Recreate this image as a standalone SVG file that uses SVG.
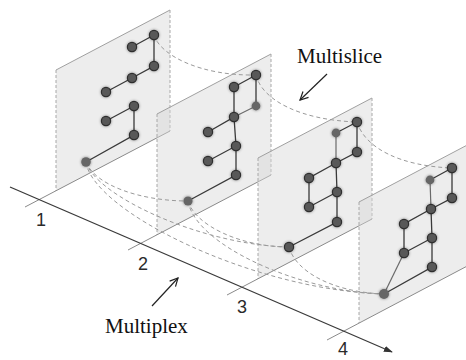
<svg xmlns="http://www.w3.org/2000/svg" width="466" height="360" viewBox="0 0 466 360">
<style>
.plane{fill:#d6d6d6;fill-opacity:0.45;stroke:none}
.ptop{stroke:#a0a0a0;stroke-width:1;fill:none}
.pside{stroke:#a8a8a8;stroke-width:1;stroke-dasharray:3,2;fill:none}
.pbot{stroke:#8a8a8a;stroke-width:1;fill:none}
.edge{stroke:#3a3a3a;stroke-width:1.3;fill:none}
.edgel{stroke:#6a6a6a;stroke-width:1.2;fill:none}
.dash{stroke:#9a9a9a;stroke-width:1;stroke-dasharray:4,3;fill:none}
.node{fill:#585858;stroke:#2e2e2e;stroke-width:1.2}
.nodel{fill:#666;stroke:none}
.num{font-family:"Liberation Sans","DejaVu Sans",sans-serif;font-size:18px;fill:#2a2a2a}
.lbl{font-family:"Liberation Serif","Times New Roman",serif;font-size:21px;fill:#111}
.arr{stroke:#222;stroke-width:1.2;fill:none}
</style>
<defs>
<filter id="glow" x="-1" y="-1" width="3" height="3">
<feGaussianBlur in="SourceAlpha" stdDeviation="1.8" result="b"/>
<feComponentTransfer in="b" result="s"><feFuncA type="linear" slope="0.45"/></feComponentTransfer>
<feMerge><feMergeNode in="s"/><feMergeNode in="SourceGraphic"/></feMerge>
</filter>
<marker id="open" viewBox="0 0 10 10" refX="9" refY="5" markerWidth="10" markerHeight="10" markerUnits="userSpaceOnUse" orient="auto">
<path d="M1,1 L9,5 L1,9" stroke="#222" stroke-width="1.2" fill="none"/>
</marker>
<marker id="solid" viewBox="0 0 10 10" refX="9" refY="5" markerWidth="9" markerHeight="9" markerUnits="userSpaceOnUse" orient="auto">
<path d="M0,1.5 L10,5 L0,8.5 Z" fill="#333"/>
</marker>
</defs>
<rect width="466" height="360" fill="#fff"/>

<!-- layers -->
<g id="layer1">
<polygon class="plane" points="56,70 170,10 170,131 56,191"/>
<line class="ptop" x1="56" y1="70" x2="170" y2="10"/>
<line class="pside" x1="56" y1="70" x2="56" y2="191"/>
<line class="pside" x1="170" y1="10" x2="170" y2="131"/>
<line class="pbot" x1="25" y1="207" x2="170" y2="131"/>
</g>
<g id="layer2">
<polygon class="plane" points="157,114 271,54 271,175 157,235"/>
<line class="ptop" x1="157" y1="114" x2="271" y2="54"/>
<line class="pside" x1="157" y1="114" x2="157" y2="235"/>
<line class="pside" x1="271" y1="54" x2="271" y2="175"/>
<line class="pbot" x1="128" y1="250" x2="271" y2="175"/>
</g>
<g id="layer3">
<polygon class="plane" points="258,158 372,98 372,219 258,279"/>
<line class="ptop" x1="258" y1="158" x2="372" y2="98"/>
<line class="pside" x1="258" y1="158" x2="258" y2="279"/>
<line class="pside" x1="372" y1="98" x2="372" y2="219"/>
<line class="pbot" x1="227" y1="295" x2="372" y2="219"/>
</g>
<g id="layer4">
<polygon class="plane" points="359,202 473,142 473,263 359,323"/>
<line class="ptop" x1="359" y1="202" x2="473" y2="142"/>
<line class="pside" x1="359" y1="202" x2="359" y2="323"/>
<line class="pbot" x1="327" y1="340" x2="473" y2="263"/>
</g>

<!-- axis -->
<g id="axis">
<line x1="10" y1="187" x2="392" y2="352" stroke="#3a3a3a" stroke-width="1.3" marker-end="url(#solid)"/>
<text class="num" x="36" y="226">1</text>
<text class="num" x="138" y="270">2</text>
<text class="num" x="237" y="313">3</text>
<text class="num" x="338" y="355">4</text>
</g>

<g id="connectors">
<!-- multislice -->
<path class="dash" d="M154,35 C160,55 200,76 256,75"/>
<path class="dash" d="M256,75 C262,100 300,120 357,122"/>
<path class="dash" d="M357,122 C365,148 400,166 452,168"/>
<!-- multiplex -->
<path class="dash" d="M86,162 C95,185 140,201 188,201"/>
<path class="dash" d="M86,162 C95,195 200,245 289,247"/>
<path class="dash" d="M86,162 C92,210 250,290 384,294"/>
<path class="dash" d="M188,201 C195,225 240,247 289,247"/>
<path class="dash" d="M188,201 C195,245 300,292 384,294"/>
<path class="dash" d="M289,247 C295,270 330,292 384,294"/>
<!-- layer 1 edges -->
<path class="edge" d="M132,47 L154,35 L154,66 L132,78 L106,92"/>
<path class="edge" d="M106,121 L134,106 L134,135 L86,162"/>
<!-- layer 2 edges -->
<path class="edge" d="M234,87 L256,75 L256,106"/>
<path class="edgel" d="M256,106 L234,117"/>
<path class="edge" d="M234,87 L234,117 L208,132"/>
<path class="edge" d="M234,117 L236,146 L208,161"/>
<path class="edge" d="M236,146 L236,175 L188,201"/>
<!-- layer 3 edges -->
<path class="edge" d="M336,133 L357,122 L357,152 L336,163"/>
<path class="edgel" d="M336,133 L336,163"/>
<path class="edge" d="M336,163 L309,178 L309,207 L337,192"/>
<path class="edge" d="M336,163 L337,192 L337,222 L289,247"/>
<!-- layer 4 edges -->
<path class="edge" d="M430,180 L452,168 L452,198 L431,209"/>
<path class="edgel" d="M430,180 L431,209"/>
<path class="edge" d="M431,209 L404,224 L404,253 L432,238"/>
<path class="edge" d="M431,209 L432,238 L432,267 L384,294"/>
<path class="edgel" d="M404,253 L384,294"/>
</g>

<g id="nodes" filter="url(#glow)">
<g id="n1a"><circle class="node" cx="154" cy="35" r="4.6"/></g>
<g id="n1b"><circle class="node" cx="132" cy="47" r="4.6"/></g>
<g id="n1c"><circle class="node" cx="154" cy="66" r="4.6"/></g>
<g id="n1d"><circle class="node" cx="132" cy="78" r="4.6"/></g>
<g id="n1e"><circle class="node" cx="106" cy="92" r="4.6"/></g>
<g id="n1f"><circle class="node" cx="134" cy="106" r="4.6"/></g>
<g id="n1g"><circle class="node" cx="106" cy="121" r="4.6"/></g>
<g id="n1h"><circle class="node" cx="134" cy="135" r="4.6"/></g>
<g id="n1i"><circle class="nodel" cx="86" cy="162" r="4.8"/></g>

<g id="n2a"><circle class="node" cx="256" cy="75" r="4.6"/></g>
<g id="n2b"><circle class="node" cx="234" cy="87" r="4.6"/></g>
<g id="n2c"><circle class="nodel" cx="256" cy="106" r="4.4"/></g>
<g id="n2d"><circle class="node" cx="234" cy="117" r="4.6"/></g>
<g id="n2e"><circle class="node" cx="208" cy="132" r="4.6"/></g>
<g id="n2f"><circle class="node" cx="236" cy="146" r="4.6"/></g>
<g id="n2g"><circle class="node" cx="208" cy="161" r="4.6"/></g>
<g id="n2h"><circle class="node" cx="236" cy="175" r="4.6"/></g>
<g id="n2i"><circle class="nodel" cx="188" cy="201" r="4.6"/></g>

<g id="n3a"><circle class="node" cx="357" cy="122" r="4.6"/></g>
<g id="n3b"><circle class="nodel" cx="336" cy="133" r="4.4"/></g>
<g id="n3c"><circle class="node" cx="357" cy="152" r="4.6"/></g>
<g id="n3d"><circle class="node" cx="336" cy="163" r="4.6"/></g>
<g id="n3e"><circle class="node" cx="309" cy="178" r="4.6"/></g>
<g id="n3f"><circle class="node" cx="337" cy="192" r="4.6"/></g>
<g id="n3g"><circle class="node" cx="309" cy="207" r="4.6"/></g>
<g id="n3h"><circle class="node" cx="337" cy="222" r="4.6"/></g>
<g id="n3i"><circle class="node" cx="289" cy="247" r="4.6"/></g>

<g id="n4a"><circle class="node" cx="452" cy="168" r="4.6"/></g>
<g id="n4b"><circle class="nodel" cx="430" cy="180" r="4.4"/></g>
<g id="n4c"><circle class="node" cx="452" cy="198" r="4.6"/></g>
<g id="n4d"><circle class="node" cx="431" cy="209" r="4.6"/></g>
<g id="n4e"><circle class="node" cx="404" cy="224" r="4.6"/></g>
<g id="n4f"><circle class="node" cx="432" cy="238" r="4.6"/></g>
<g id="n4g"><circle class="node" cx="404" cy="253" r="4.6"/></g>
<g id="n4h"><circle class="node" cx="432" cy="267" r="4.6"/></g>
<g id="n4i"><circle class="nodel" cx="384" cy="294" r="5"/></g>
</g>

<g id="labels">
<text class="lbl" x="297" y="63">Multislice</text>
<line class="arr" x1="327" y1="74" x2="300" y2="100" marker-end="url(#open)"/>
<text class="lbl" x="105" y="333">Multiplex</text>
<line class="arr" x1="152" y1="306" x2="178" y2="278" marker-end="url(#open)"/>
</g>
</svg>
